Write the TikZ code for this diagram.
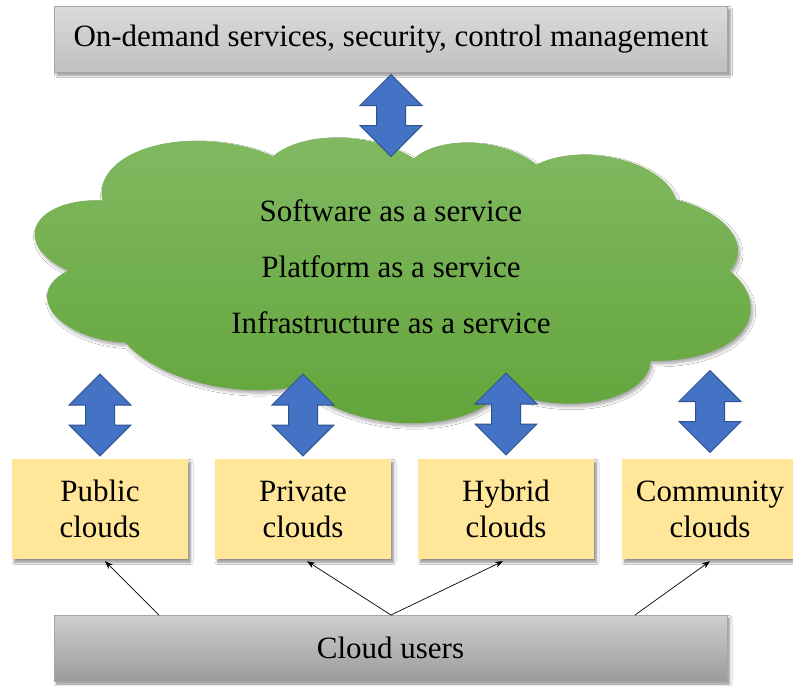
\documentclass[tikz,border=0pt]{standalone}
\usepackage{fontspec}
\setmainfont{Liberation Serif}
\usetikzlibrary{calc,shadows,shadows.blur,arrows.meta}

\definecolor{arrowblue}{HTML}{4472C4}
\definecolor{arrowedge}{HTML}{2F528F}
\definecolor{boxyellow}{HTML}{FFE699}
\definecolor{cloudtop}{HTML}{80B961}
\definecolor{cloudbot}{HTML}{63A43A}
\definecolor{greyedge}{HTML}{A6A6A6}

\begin{document}
\begin{tikzpicture}[x=1pt,y=-1pt,
  % elliptic lobe: radii #1,#2, start at visual angle #3, sweep #4 (clockwise)
  lobe/.style n args={4}{insert path={
    arc[start angle={atan2(#1*sin(#3),#2*cos(#3))},
        delta angle={mod(atan2(#1*sin(#3+#4),#2*cos(#3+#4))-atan2(#1*sin(#3),#2*cos(#3))+720,360)},
        x radius=#1, y radius=#2]}},
  txt/.style={font=\fontsize{31}{36}\selectfont, text=black},
  softshadow/.style={blur shadow={shadow xshift=2.5pt, shadow yshift=-3pt,
    shadow blur radius=2.5pt, shadow blur steps=6, shadow opacity=45}},
  greybox/.style={txt, draw=greyedge, line width=0.6pt, minimum width=673pt, minimum height=66pt,
    inner sep=0pt, softshadow},
  kindbox/.style={txt, fill=boxyellow, minimum width=176pt, minimum height=100pt,
    inner sep=0pt, align=center, softshadow},
  link/.style={-{Stealth[length=8pt,width=6pt]}, line width=0.7pt, black},
  dblarrow/.pic={
    \draw[fill=arrowblue, draw=arrowedge, line width=1pt, line join=miter]
      (0,-41) -- (31,-10) -- (14.5,-10) -- (14.5,10) -- (31,10) -- (0,41)
      -- (-31,10) -- (-14.5,10) -- (-14.5,-10) -- (-31,-10) -- cycle;}
]
\useasboundingbox[fill=white] (0,0) rectangle (793,686);

% the cloud, drawn in a 4320 x 4320 frame mapped onto its place
\begin{scope}[shift={(43.4,98)}, x={(0.1656pt,-0.01681pt)}, y={(-0.004pt,-0.0662pt)}]
\shade[top color=cloudtop, bottom color=cloudbot,
       blur shadow={shadow xshift=2pt, shadow yshift=-3pt,
         shadow blur radius=3pt, shadow blur steps=6, shadow opacity=35}]
  (390,1437)
  [lobe={675.3}{919.0}{-190.48748}{123.78053}]
  [lobe={533.3}{726.7}{-144.10238}{89.94523}]
  [lobe={436.5}{594.5}{-145.80792}{99.72302}]
  [lobe={485.7}{659.5}{-130.98607}{117.24173}]
  [lobe={533.3}{727.3}{-78.70888}{109.02692}]
  [lobe={677.5}{922.0}{-46.26725}{130.269}]
  [lobe={578.5}{786.7}{0.62502}{114.03333}]
  [lobe={675.2}{921.5}{22.4516}{115.17255}]
  [lobe={772.0}{1054.3}{66.24263}{75.71102}]
  [lobe={436.0}{591.8}{-274.94208}{146.73557}]
  [lobe={434.5}{594.5}{-246.8285}{152.51885}]
  -- cycle;
\end{scope}

\node[txt, align=center, font=\fontsize{31}{56}\selectfont] (svc) at (391,267)
  {Software as a service\\Platform as a service\\Infrastructure as a service};

% top management bar
\node[greybox, top color=gray!28, bottom color=gray!50] (mgmt) at (391,39)
  {On-demand services, security, control management};

% deployment models
\node[kindbox] (pub)  at (100,509) {Public\\clouds};
\node[kindbox] (priv) at (303,509) {Private\\clouds};
\node[kindbox] (hyb)  at (506,509) {Hybrid\\clouds};
\node[kindbox] (comm) at (710,509) {Community\\clouds};

% users bar
\node[greybox, top color=gray!38, bottom color=gray!78] (users) at (390.5,648) {Cloud users};

% two-way block arrows
\coordinate (a0) at (391,115.5);
\coordinate (a1) at (100,415);
\coordinate (a2) at (303,415);
\coordinate (a3) at (506,414);
\coordinate (a4) at (710,411.5);
\foreach \c in {a0,a1,a2,a3,a4} \pic at (\c) {dblarrow};

% users reach every deployment model
\coordinate (u1) at (159,615);
\coordinate (u2) at (391,615);
\coordinate (u3) at (635,615);
\draw[link] (u1) -- ([xshift=5pt,yshift=-2pt]pub.south);
\draw[link] (u2) -- ([xshift=4pt,yshift=-2pt]priv.south);
\draw[link] (u2) -- ([xshift=-3pt,yshift=-2pt]hyb.south);
\draw[link] (u3) -- ([yshift=-2pt]comm.south);
\end{tikzpicture}
\end{document}
